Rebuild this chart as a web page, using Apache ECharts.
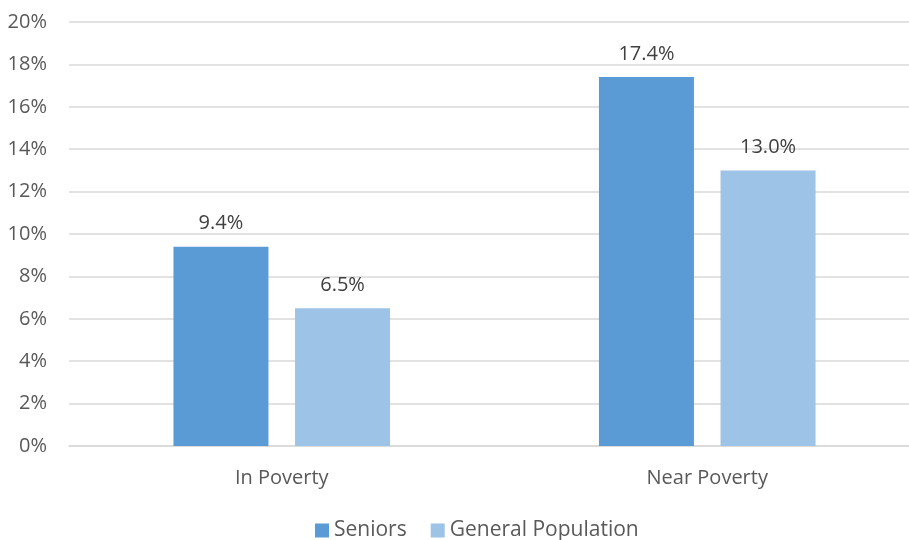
<!DOCTYPE html>
<html>
<head>
<meta charset="utf-8">
<script src="https://cdn.jsdelivr.net/npm/echarts@6/dist/echarts.min.js"></script>
<style>
  html, body { margin: 0; padding: 0; background: #fff; }
  #chart { width: 909px; height: 540px; }
</style>
</head>
<body>
<div id="chart"></div>
<script>
const categories = ['In Poverty', 'Near Poverty']
const seniors = [9.4, 17.4]
const generalPopulation = [6.5, 13.0]
const seriesNames = ['Seniors', 'General Population']

const textColor = '#595959'
const fontFamily = '"Open Sans", sans-serif'

const chart = echarts.init(document.getElementById('chart'))

const labelStyle = {
  show: true,
  position: 'top',
  distance: 13,
  color: '#404040',
  fontSize: 20,
  fontFamily: fontFamily,
  formatter: p => p.value.toFixed(1) + '%'
}

chart.setOption({
  animation: false,
  grid: {
    left: 69,
    top: 22,
    width: 851,
    height: 424,
    outerBoundsMode: 'none'
  },
  legend: {
    bottom: -6,
    left: 310,
    itemWidth: 14,
    itemHeight: 14,
    itemGap: 24,
    icon: 'rect',
    textStyle: { color: textColor, fontSize: 21, fontFamily: fontFamily },
    data: seriesNames
  },
  xAxis: {
    type: 'category',
    data: categories,
    axisLine: { lineStyle: { color: '#D9D9D9', width: 1.5 } },
    axisTick: { show: false },
    axisLabel: { color: textColor, fontSize: 20, fontFamily: fontFamily, margin: 22 }
  },
  yAxis: {
    type: 'value',
    min: 0,
    max: 20,
    interval: 2,
    axisLine: { show: false },
    axisTick: { show: false },
    splitLine: { lineStyle: { color: '#D9D9D9', width: 1.5 } },
    axisLabel: {
      color: textColor,
      fontSize: 20,
      fontFamily: fontFamily,
      margin: 22,
      formatter: v => v + '%'
    }
  },
  series: [
    {
      name: seriesNames[0],
      type: 'bar',
      data: seniors,
      barWidth: 95,
      barGap: '28%',
      itemStyle: { color: '#5B9BD5' },
      label: labelStyle
    },
    {
      name: seriesNames[1],
      type: 'bar',
      data: generalPopulation,
      barWidth: 95,
      itemStyle: { color: '#9DC3E6' },
      label: labelStyle
    }
  ]
})
</script>
</body>
</html>
